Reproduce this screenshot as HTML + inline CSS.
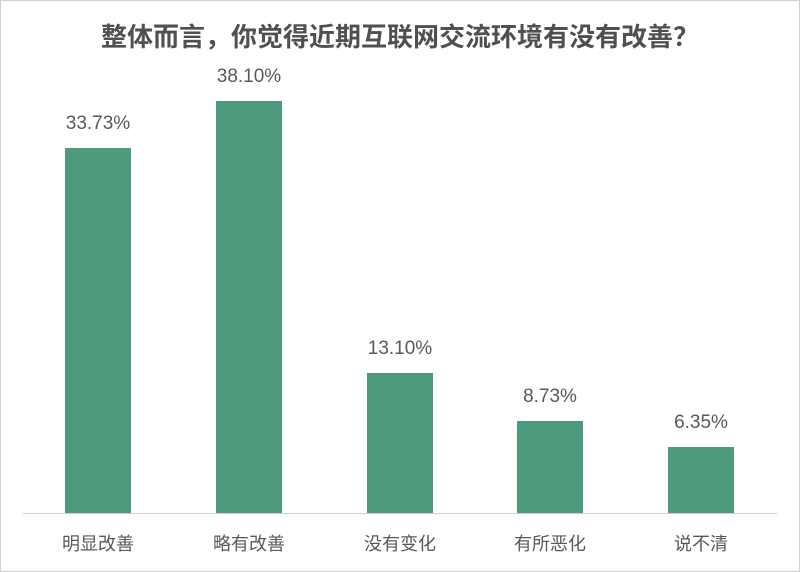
<!DOCTYPE html>
<html><head><meta charset="utf-8"><style>
body{margin:0;background:#fff}
.c{position:relative;width:798px;height:570px;border:1px solid #d0d0d0;overflow:hidden;font-family:"Liberation Sans","Noto Sans CJK SC",sans-serif;color:#595959}
.t{position:absolute;top:16px;left:0;width:100%;text-align:center;font-size:26px;font-weight:bold;color:#505050;white-space:nowrap}
.b{position:absolute;width:66px;background:#4d9a7c;bottom:57px}
.v{position:absolute;width:120px;text-align:center;font-size:19px}
.l{position:absolute;width:120px;text-align:center;font-size:18px;top:529px}
.ax{position:absolute;left:22px;right:22px;top:512px;height:1px;background:#d0d0d0}
</style></head><body><div class="c">
<div class="t">整体而言，你觉得近期互联网交流环境有没有改善？</div>
<div class="b" style="left:64px;top:147px"></div><div class="v" style="left:37px;top:112px">33.73%</div><div class="l" style="left:37px">明显改善</div>
<div class="b" style="left:215px;top:100px"></div><div class="v" style="left:188px;top:65px">38.10%</div><div class="l" style="left:188px">略有改善</div>
<div class="b" style="left:366px;top:372px"></div><div class="v" style="left:339px;top:337px">13.10%</div><div class="l" style="left:339px">没有变化</div>
<div class="b" style="left:516px;top:420px"></div><div class="v" style="left:489px;top:385px">8.73%</div><div class="l" style="left:489px">有所恶化</div>
<div class="b" style="left:667px;top:446px"></div><div class="v" style="left:640px;top:411px">6.35%</div><div class="l" style="left:640px">说不清</div>
<div class="ax"></div>
</div></body></html>
